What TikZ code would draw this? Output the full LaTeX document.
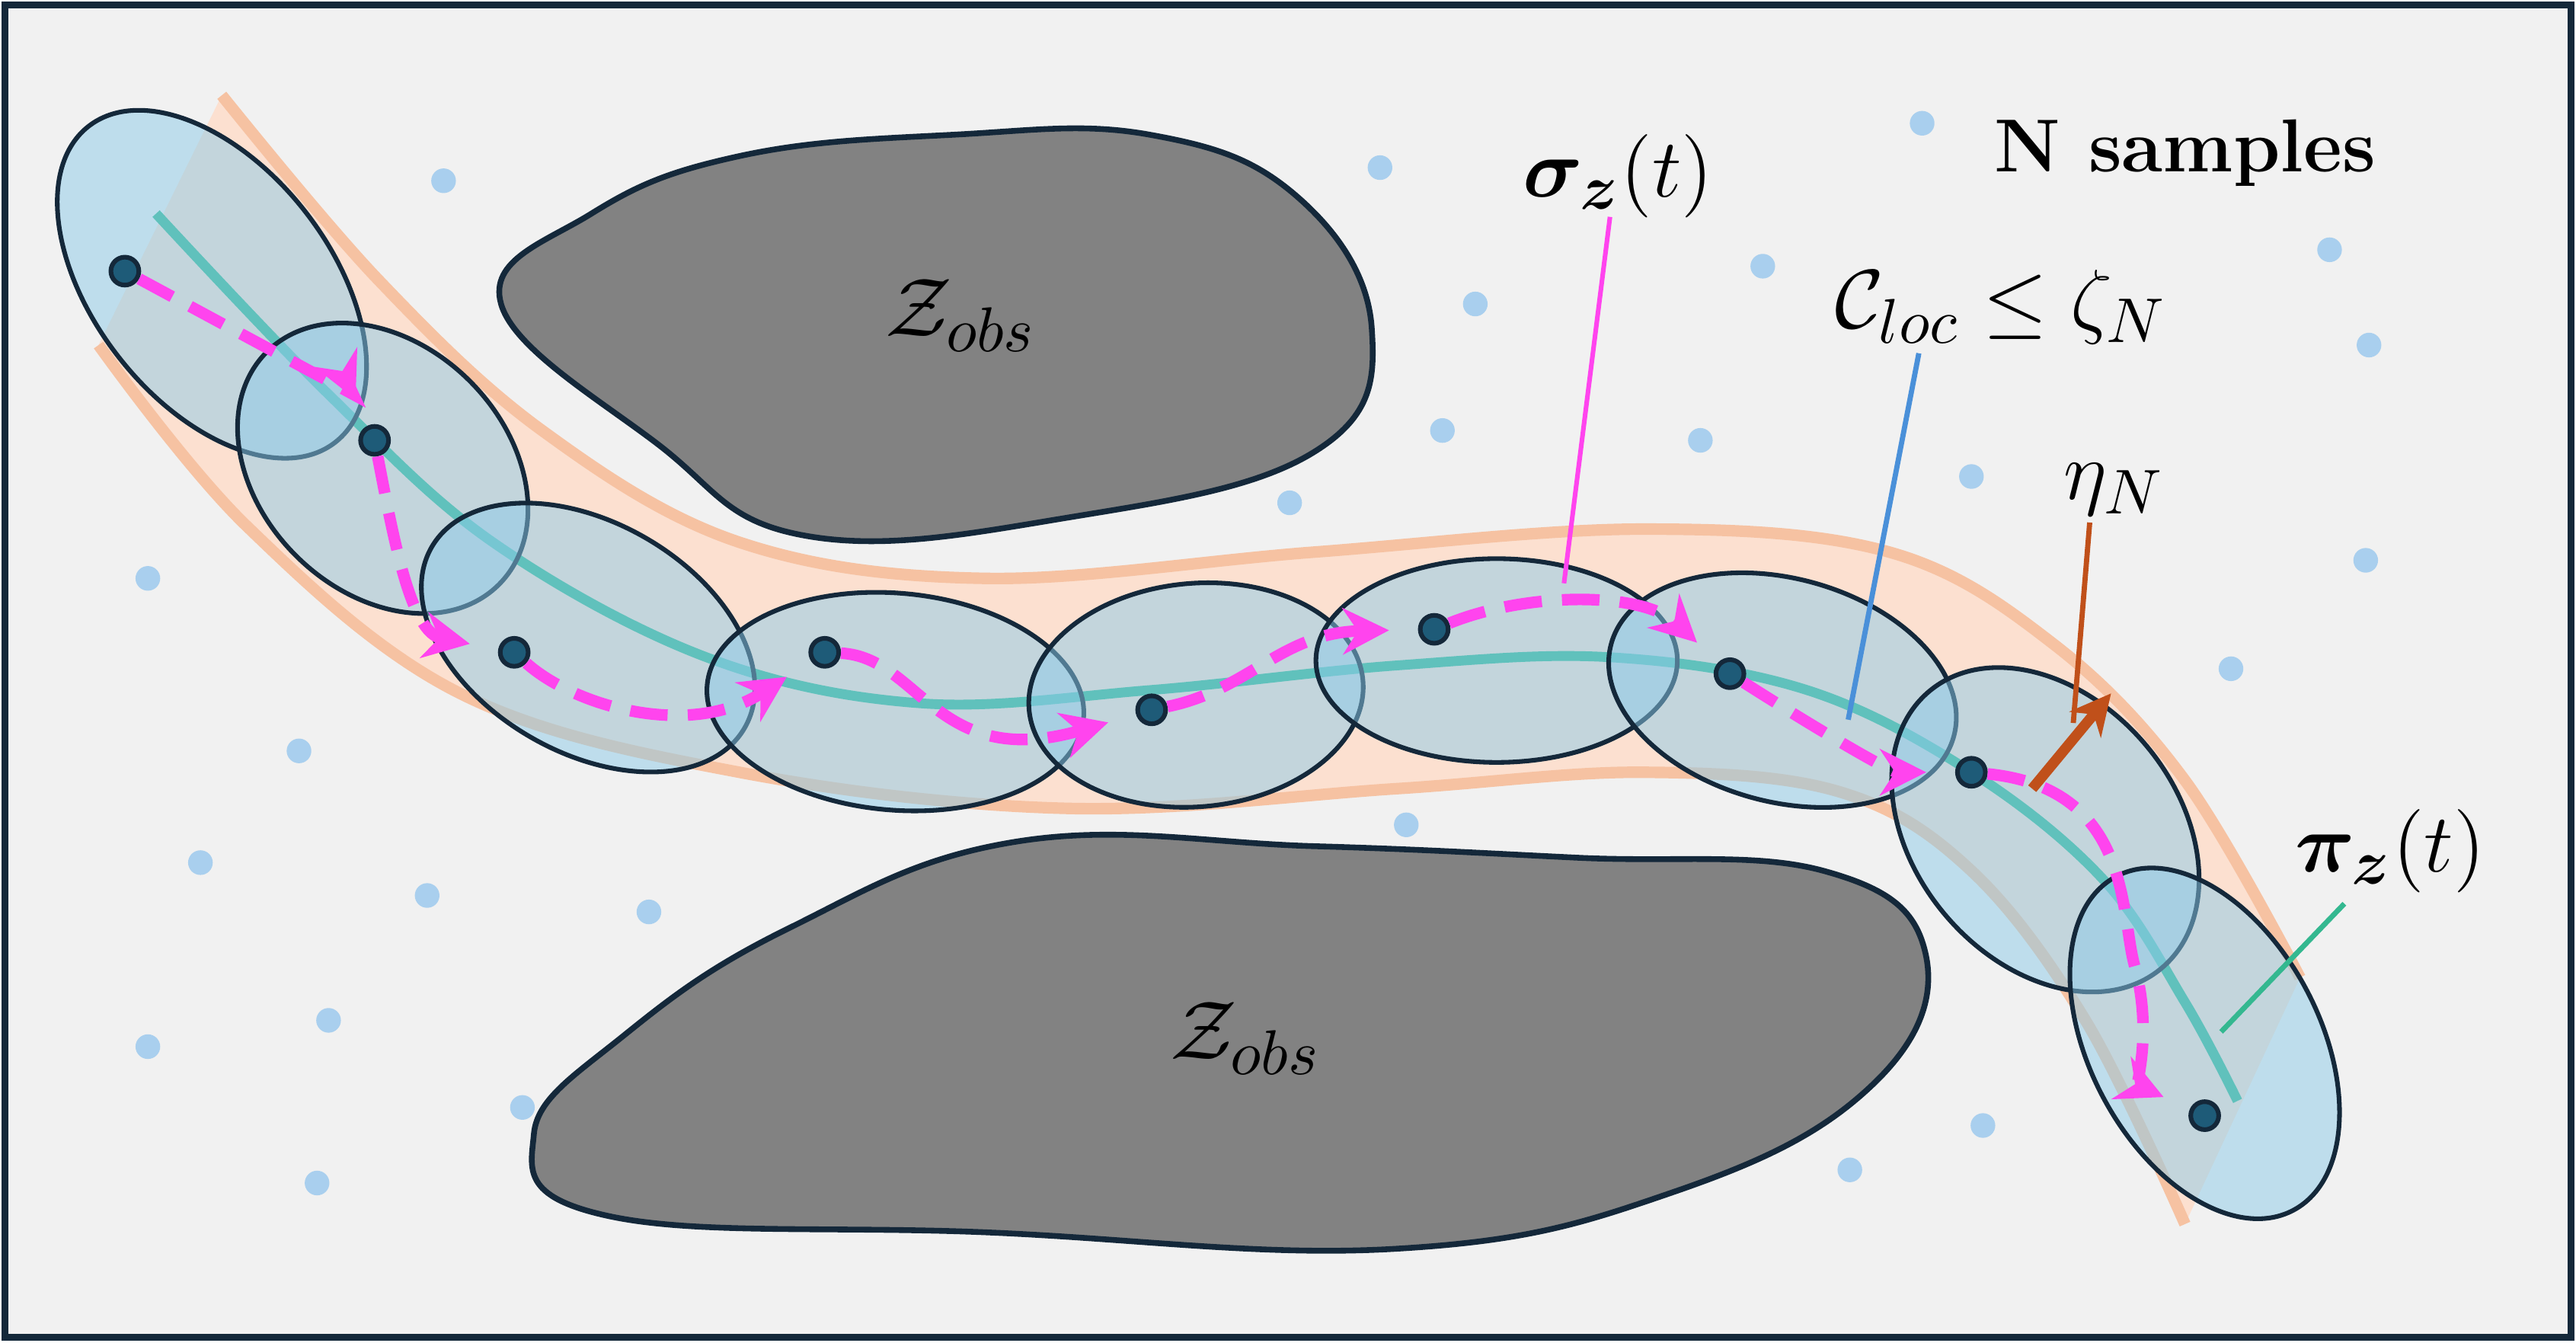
\documentclass[tikz,border=0pt]{standalone}
\usepackage{amsmath,amssymb,bm}
\usetikzlibrary{arrows.meta}
\definecolor{bg}{HTML}{F1F1F1}
\definecolor{dk}{HTML}{14283A}
\definecolor{tubef}{HTML}{FCE0D0}
\definecolor{tubee}{HTML}{F6C2A2}
\definecolor{obs}{HTML}{828282}
\definecolor{grn}{HTML}{34B890}
\definecolor{elf}{HTML}{8CCBE8}
\definecolor{ptc}{HTML}{1E5B78}
\definecolor{mag}{HTML}{FF44EE}
\definecolor{smp}{HTML}{A9CFEE}
\definecolor{lblue}{HTML}{4A90D9}
\definecolor{org}{HTML}{C0501A}
\begin{document}
\begin{tikzpicture}[x=0.01cm,y=-0.01cm,
  ell/.style={draw=dk,line width=0.8pt,fill=elf,fill opacity=0.5},
  pt/.style={circle,draw=dk,line width=0.8pt,fill=ptc,inner sep=0pt,minimum size=0.17cm},
  smpl/.style={circle,fill=smp,inner sep=0pt,minimum size=0.15cm},
  mg/.style={mag,line width=2pt,dash pattern=on 6.5pt off 3.5pt,-{Stealth[length=8pt,width=8pt]},shorten >=5pt},
  lbl/.style={font=\fontsize{15}{17}\selectfont}]
\fill[bg,draw=dk,line width=1.2pt] (3,3) rectangle (1565,814);
\useasboundingbox (0,0) rectangle (1568,817);
% samples
\foreach \x/\y [count=\i] in {270/110,840/102,1170/75,1073/162,898/185,1418/152,1442/210,878/262,1035/268,1200/290,785/306,90/352,1440/341,1358/407,182/457,856/502,122/525,260/545,395/555,90/637,200/621,318/674,193/720,1207/685,1126/712}
  \node[smpl] (s\i) at (\x,\y) {};
% tube
\fill[tubef] plot[smooth,tension=0.6] coordinates {(135,58)(230,170)(330,262)(450,330)(600,352)(800,336)(1000,322)(1150,336)(1250,392)(1330,475)(1400,595)}
  -- (1400,595) -- (1330,745) -- plot[smooth,tension=0.6] coordinates {(1330,745)(1270,622)(1200,530)(1120,482)(1000,470)(850,480)(650,492)(450,470)(280,422)(150,320)(60,210)} -- cycle;
\draw[tubee,line width=2pt] plot[smooth,tension=0.6] coordinates {(135,58)(230,170)(330,262)(450,330)(600,352)(800,336)(1000,322)(1150,336)(1250,392)(1330,475)(1400,595)};
\draw[tubee,line width=2pt] plot[smooth,tension=0.6] coordinates {(60,210)(150,320)(280,422)(450,470)(650,492)(850,480)(1000,470)(1120,482)(1200,530)(1270,622)(1330,745)};
% obstacles
\draw[dk,fill=obs,line width=1pt] plot[smooth cycle,tension=0.7] coordinates {(305,185)(360,130)(450,95)(580,82)(700,82)(790,120)(835,200)(800,275)(650,315)(490,326)(400,270)};
\draw[dk,fill=obs,line width=1pt] plot[smooth cycle,tension=0.7] coordinates {(325,690)(380,630)(480,565)(620,512)(800,515)(960,522)(1110,530)(1172,580)(1140,660)(1020,725)(850,760)(600,750)(370,740)};
\node[lbl] (z1) at (585,192) {$\mathcal{Z}_{obs}$};
\node[lbl] (z2) at (758,632) {$\mathcal{Z}_{obs}$};
% green path
\draw[grn,line width=1.7pt] plot[smooth,tension=0.6] coordinates {(95,130)(200,240)(300,330)(430,400)(560,428)(700,420)(850,405)(980,400)(1100,420)(1200,470)(1280,535)(1330,610)(1362,670)};
% ellipses
\draw[ell] (129,173) ellipse[x radius=122,y radius=72,rotate=-52];
\draw[ell] (233,285) ellipse[x radius=100,y radius=75,rotate=-45];
\draw[ell] (358,388) ellipse[x radius=110,y radius=70,rotate=-30];
\draw[ell] (545,427) ellipse[x radius=115,y radius=66,rotate=-5];
\draw[ell] (728,423) ellipse[x radius=102,y radius=68,rotate=5];
\draw[ell] (911,402) ellipse[x radius=110,y radius=62,rotate=0];
\draw[ell] (1085,420) ellipse[x radius=108,y radius=68,rotate=-15];
\draw[ell] (1245,505) ellipse[x radius=110,y radius=80,rotate=-50];
\draw[ell] (1342,635) ellipse[x radius=115,y radius=70,rotate=-62];
% points
\foreach \x/\y [count=\i] in {76/165,228/268,313/397,502/397,701/432,873/383,1053/410,1200/470,1342/679}
  \node[pt] (p\i) at (\x,\y) {};
% magenta path
\draw[mg] (p1) -- (215,240) -- (p2);
\draw[mg] (p2) .. controls (240,330) and (250,385) .. (p3);
\draw[mg] (p3) .. controls (350,430) and (420,450) .. (p4);
\draw[mg] (p4) .. controls (560,400) and (570,470) .. (p5);
\draw[mg] (p5) .. controls (760,420) and (780,385) .. (p6);
\draw[mg] (p6) .. controls (930,360) and (1000,360) .. (p7);
\draw[mg] (p7) .. controls (1100,440) and (1150,470) .. (p8);
\draw[mg] (p8) .. controls (1300,480) and (1290,560) .. (1300,590) .. controls (1310,630) and (1300,660) .. (p9);
% labels
\node[font=\bfseries\fontsize{13}{15}\selectfont] (ns) at (1330,93) {N samples};
\node[lbl] (sg) at (985,107) {$\boldsymbol{\sigma}_{\boldsymbol{z}}(t)$};
\coordinate (sgE) at (952,355);
\draw[mag,line width=0.8pt] (980,132) -- (sgE);
\node[lbl] (cl) at (1218,187) {$\mathcal{C}_{loc}\le\zeta_N$};
\coordinate (clE) at (1125,438);
\draw[lblue,line width=0.9pt] (1168,215) -- (clE);
\node[lbl] (et) at (1287,298) {$\eta_N$};
\coordinate (etA) at (1237,480);
\coordinate (etB) at (1285,422);
\draw[org,line width=0.9pt] (1272,318) -- (1262,440);
\draw[org,line width=1.8pt,-{Stealth[length=7pt,width=7pt]}] (etA) -- (etB);
\node[lbl] (pi) at (1455,518) {$\boldsymbol{\pi}_{\boldsymbol{z}}(t)$};
\coordinate (piE) at (1352,628);
\draw[grn,line width=0.9pt] (1427,550) -- (piE);
\end{tikzpicture}
\end{document}
